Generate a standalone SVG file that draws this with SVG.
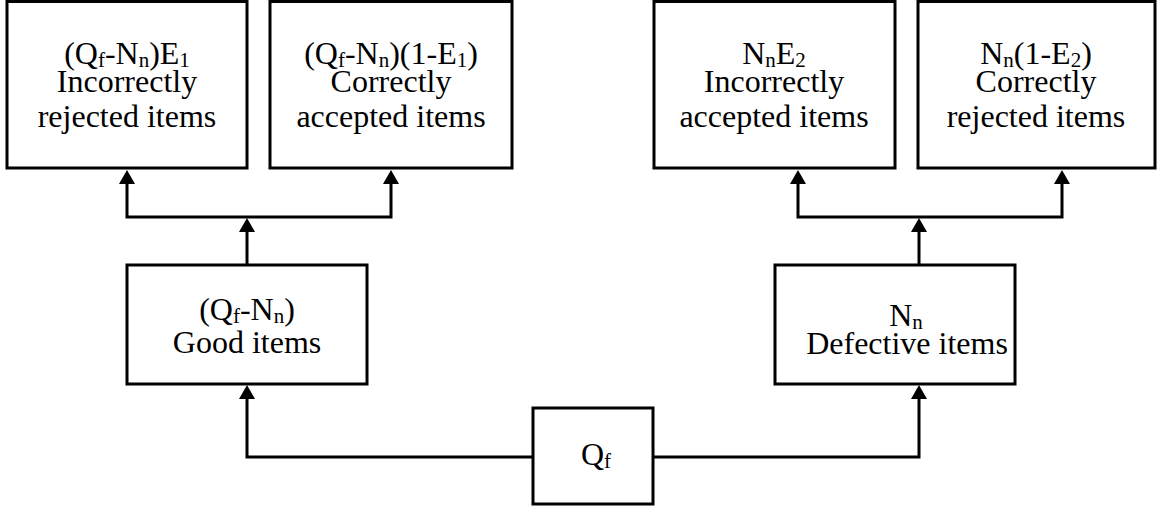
<svg xmlns="http://www.w3.org/2000/svg" width="1157" height="510" viewBox="0 0 1157 510" font-family="Liberation Serif, Times New Roman, Times, serif">
<style>
.box{fill:#fff;stroke:#000;stroke-width:3}
text{font-family:'Liberation Serif','Times New Roman',serif;font-size:32px;fill:#000;text-anchor:middle}
.s{font-size:21px}
.c{fill:none;stroke:#000;stroke-width:3}
</style>
<defs>
<marker id="ah" viewBox="0 0 14 16" markerWidth="14" markerHeight="16" markerUnits="userSpaceOnUse" refX="10" refY="8" orient="auto">
<path d="M0,0 L14,8 L0,16 z" fill="#000"/>
</marker>
</defs>
<rect width="1157" height="510" fill="#fff"/>
<g id="connectors">
<path class="c" d="M247,217 H127 V174" marker-end="url(#ah)"/>
<path class="c" d="M247,217 H391 V174" marker-end="url(#ah)"/>
<path class="c" d="M247,265 V222" marker-end="url(#ah)"/>
<path class="c" d="M919,217 H798 V174" marker-end="url(#ah)"/>
<path class="c" d="M919,217 H1062 V174" marker-end="url(#ah)"/>
<path class="c" d="M919,265 V222" marker-end="url(#ah)"/>
<path class="c" d="M533,457 H247 V389" marker-end="url(#ah)"/>
<path class="c" d="M653,457 H919 V389" marker-end="url(#ah)"/>
</g>
<g id="n1">
<rect class="box" x="7" y="1.5" width="240" height="166.5"/>
<text x="127" y="64">(Q<tspan class="s" dy="3">f</tspan><tspan dy="-3">-N</tspan><tspan class="s" dy="3">n</tspan><tspan dy="-3">)E</tspan><tspan class="s" dy="3">1</tspan></text>
<text x="127" y="92">Incorrectly</text>
<text x="127" y="127">rejected items</text>
</g>
<g id="n2">
<rect class="box" x="270" y="1.5" width="242" height="166.5"/>
<text x="391" y="64">(Q<tspan class="s" dy="3">f</tspan><tspan dy="-3">-N</tspan><tspan class="s" dy="3">n</tspan><tspan dy="-3">)(1-E</tspan><tspan class="s" dy="3">1</tspan><tspan dy="-3">)</tspan></text>
<text x="391" y="92">Correctly</text>
<text x="391" y="127">accepted items</text>
</g>
<g id="n3">
<rect class="box" x="654" y="1.5" width="241" height="166.5"/>
<text x="774" y="64">N<tspan class="s" dy="3">n</tspan><tspan dy="-3">E</tspan><tspan class="s" dy="3">2</tspan></text>
<text x="774" y="92">Incorrectly</text>
<text x="774" y="127">accepted items</text>
</g>
<g id="n4">
<rect class="box" x="918" y="1.5" width="237" height="166.5"/>
<text x="1036" y="64">N<tspan class="s" dy="3">n</tspan><tspan dy="-3">(1-E</tspan><tspan class="s" dy="3">2</tspan><tspan dy="-3">)</tspan></text>
<text x="1036" y="92">Correctly</text>
<text x="1036" y="127">rejected items</text>
</g>
<g id="good">
<rect class="box" x="127" y="265" width="240" height="119"/>
<text x="247" y="320">(Q<tspan class="s" dy="3">f</tspan><tspan dy="-3">-N</tspan><tspan class="s" dy="3">n</tspan><tspan dy="-3">)</tspan></text>
<text x="247" y="353">Good items</text>
</g>
<g id="defective">
<rect class="box" x="775" y="265" width="240" height="119"/>
<text x="906" y="326">N<tspan class="s" dy="3">n</tspan></text>
<text x="907" y="354">Defective items</text>
</g>
<g id="qf">
<rect class="box" x="533" y="408" width="120" height="96"/>
<text x="596" y="465">Q<tspan class="s" dy="3">f</tspan></text>
</g>
</svg>
